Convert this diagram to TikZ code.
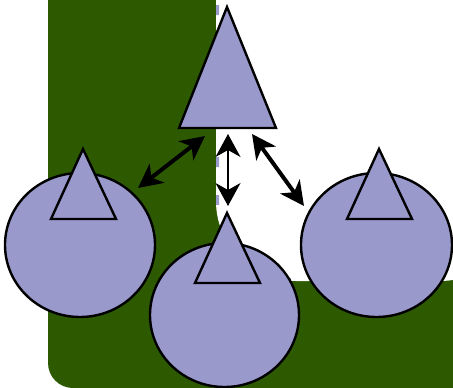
\documentclass[tikz,border=0pt]{standalone}
\usetikzlibrary{arrows.meta,shapes.geometric}
\definecolor{dkgreen}{RGB}{45,90,0}
\definecolor{lav}{RGB}{153,153,204}
\begin{document}
\begin{tikzpicture}[x=1pt,y=-1pt,
  ball/.style={ellipse, draw=black, line width=2.4pt, fill=lav, inner sep=0pt, minimum height=144pt},
  tri/.style={draw=black, line width=2.4pt, fill=lav, line join=miter},
  thickdbl/.style={{Stealth[length=24pt,width=24pt,inset=7pt]}-{Stealth[length=24pt,width=24pt,inset=7pt]}, line width=4pt},
  thindbl/.style={{Stealth[length=23pt,width=25pt,inset=7pt]}-{Stealth[length=23pt,width=25pt,inset=7pt]}, line width=1.2pt}
]
\useasboundingbox (0,0) rectangle (453,388);
% background regions
\fill[dkgreen, rounded corners=25pt] (48,-200) rectangle (520,388);
\fill[white, rounded corners=80pt] (216,-300) -- (216,281) -- (520,281) -- (520,-300) -- cycle;
\draw[lav, line width=3pt, dash pattern=on 10pt off 28pt, rounded corners=80pt] (217.5,5) -- (217.5,280) -- (520,280);
% balls
\node[ball, minimum width=150pt] (L) at (80,245) {};
\node[ball, minimum width=149pt] (M) at (224.5,315) {};
\node[ball, minimum width=151pt] (R) at (376.5,245) {};
% triangles
\coordinate (Ta) at (227,7);   \coordinate (Tb) at (276,128); \coordinate (Tc) at (179,128);
\coordinate (La) at (83,149);  \coordinate (Lb) at (116,219); \coordinate (Lc) at (51,219);
\coordinate (Ma) at (227,213); \coordinate (Mb) at (260,283); \coordinate (Mc) at (195,283);
\coordinate (Ra) at (379,149); \coordinate (Rb) at (412,219); \coordinate (Rc) at (347,219);
\draw[tri] (Ta) -- (Tb) -- (Tc) -- cycle;
\draw[tri] (La) -- (Lb) -- (Lc) -- cycle;
\draw[tri] (Ma) -- (Mb) -- (Mc) -- cycle;
\draw[tri] (Ra) -- (Rb) -- (Rc) -- cycle;
% arrows
\coordinate (a1) at (138,188); \coordinate (a2) at (205,136);
\coordinate (b1) at (228,134); \coordinate (b2) at (228,206);
\coordinate (c1) at (252,134); \coordinate (c2) at (304,206);
\draw[thickdbl] (a1) -- (a2);
\draw[thindbl] (b1) -- (b2);
\draw[thickdbl] (c1) -- (c2);
\end{tikzpicture}
\end{document}
